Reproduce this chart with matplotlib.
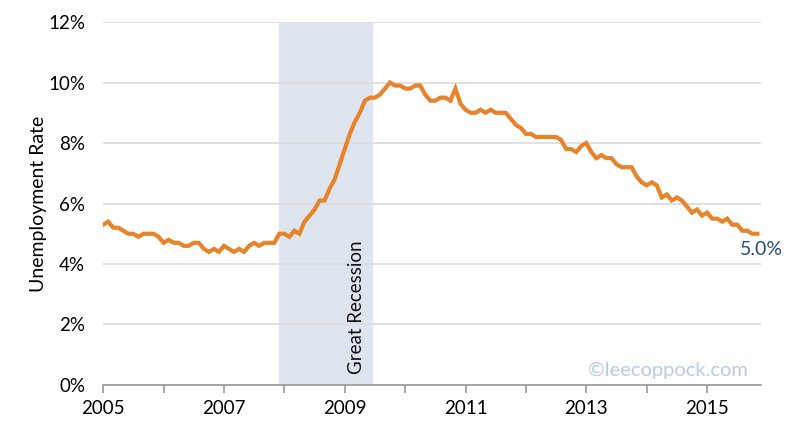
import numpy as np
import matplotlib
matplotlib.use('Agg')
import matplotlib.pyplot as plt
from matplotlib.ticker import MultipleLocator, FuncFormatter

plt.rcParams['font.family'] = ['Lato', 'DejaVu Sans']

# monthly unemployment rate, Jan 2005 - Nov 2015
rate_2005 = [5.3, 5.4, 5.2, 5.2, 5.1, 5.0, 5.0, 4.9, 5.0, 5.0, 5.0, 4.9]
rate_2006 = [4.7, 4.8, 4.7, 4.7, 4.6, 4.6, 4.7, 4.7, 4.5, 4.4, 4.5, 4.4]
rate_2007 = [4.6, 4.5, 4.4, 4.5, 4.4, 4.6, 4.7, 4.6, 4.7, 4.7, 4.7, 5.0]
rate_2008 = [5.0, 4.9, 5.1, 5.0, 5.4, 5.6, 5.8, 6.1, 6.1, 6.5, 6.8, 7.3]
rate_2009 = [7.8, 8.3, 8.7, 9.0, 9.4, 9.5, 9.5, 9.6, 9.8, 10.0, 9.9, 9.9]
rate_2010 = [9.8, 9.8, 9.9, 9.9, 9.6, 9.4, 9.4, 9.5, 9.5, 9.4, 9.8, 9.3]
rate_2011 = [9.1, 9.0, 9.0, 9.1, 9.0, 9.1, 9.0, 9.0, 9.0, 8.8, 8.6, 8.5]
rate_2012 = [8.3, 8.3, 8.2, 8.2, 8.2, 8.2, 8.2, 8.1, 7.8, 7.8, 7.7, 7.9]
rate_2013 = [8.0, 7.7, 7.5, 7.6, 7.5, 7.5, 7.3, 7.2, 7.2, 7.2, 6.9, 6.7]
rate_2014 = [6.6, 6.7, 6.6, 6.2, 6.3, 6.1, 6.2, 6.1, 5.9, 5.7, 5.8, 5.6]
rate_2015 = [5.7, 5.5, 5.5, 5.4, 5.5, 5.3, 5.3, 5.1, 5.1, 5.0, 5.0]

rates = (rate_2005 + rate_2006 + rate_2007 + rate_2008 + rate_2009 + rate_2010
         + rate_2011 + rate_2012 + rate_2013 + rate_2014 + rate_2015)
years = 2005 + np.arange(len(rates)) / 12.0

recession_start = 2007 + 11 / 12   # Dec 2007
recession_end = 2009 + 5.5 / 12    # Jun 2009

fig = plt.figure(figsize=(8, 4.28), dpi=100)
ax = fig.add_axes([0.129, 0.1005, 0.822, 0.848])

ax.axvspan(recession_start, recession_end, color='#dfe5ee', zorder=0)
ax.text(recession_start + 1.27, 0.35, 'Great Recession', rotation=90,
        ha='center', va='bottom', fontsize=13.5, color='#111111')

ax.plot(years, rates, color='#e8832a', linewidth=3.0, solid_joinstyle='miter', zorder=3)
ax.text(years[-1] + 0.06, rates[-1] - 0.25, '%.1f%%' % rates[-1], ha='center', va='top',
        fontsize=14, color='#2b4a7c', clip_on=False)

ax.text(2015.67, 0.2, '\u00a9leecoppock.com', ha='right', va='bottom',
        fontsize=14.5, color='#b9cbe5')

ax.set_xlim(2005, 2015.89)
ax.set_ylim(0, 12)
ax.yaxis.set_major_locator(MultipleLocator(2))
ax.yaxis.set_major_formatter(FuncFormatter(lambda v, p: '%d%%' % v))
ax.set_xticks([2005, 2007, 2009, 2011, 2013, 2015])
ax.set_xticklabels(['2005', '2007', '2009', '2011', '2013', '2015'])
ax.xaxis.set_minor_locator(MultipleLocator(1))

ax.grid(axis='y', color='#dcdcdc', linewidth=1.2)
ax.set_axisbelow(True)
for s in ['top', 'right', 'left']:
    ax.spines[s].set_visible(False)
ax.spines['bottom'].set_color('#999999')
ax.spines['bottom'].set_linewidth(1.2)
ax.tick_params(axis='y', length=0, labelsize=13.5, pad=13)
ax.tick_params(axis='x', which='both', length=6, color='#999999', width=1.2,
               labelsize=13.5, pad=5)
ax.set_ylabel('Unemployment Rate', fontsize=14, labelpad=1)

fig.savefig('out.png', dpi=100)
